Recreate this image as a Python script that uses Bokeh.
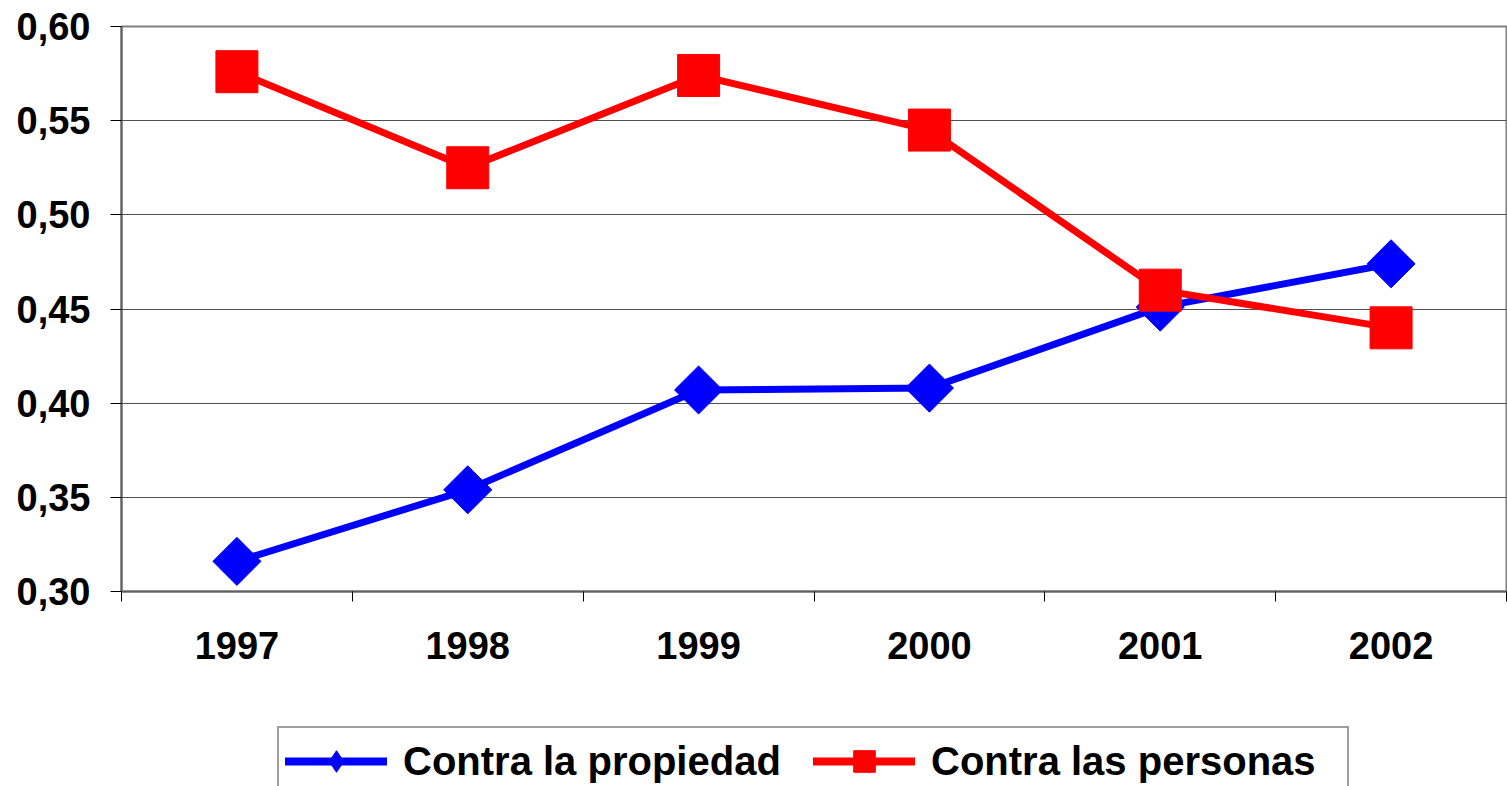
import math
from bokeh.plotting import figure
from bokeh.layouts import column
from bokeh.models import FixedTicker, CustomJSTickFormatter, Legend, LegendItem, Range1d
from bokeh.embed import file_html
from bokeh.resources import INLINE

years = ["1997", "1998", "1999", "2000", "2001", "2002"]
propiedad = [0.316, 0.354, 0.407, 0.408, 0.451, 0.474]
personas = [0.576, 0.525, 0.574, 0.545, 0.460, 0.440]
y_ticks = [0.30, 0.35, 0.40, 0.45, 0.50, 0.55, 0.60]
series_names = ["Contra la propiedad", "Contra las personas"]

xs = list(range(1, len(years) + 1))
FONT = "Liberation Sans"

p = figure(width=1507, height=726, output_backend="svg", toolbar_location=None,
           x_range=Range1d(0.5, len(years) + 0.5), y_range=Range1d(0.30, 0.60),
           min_border_left=121, min_border_top=26, min_border_right=1, min_border_bottom=135)
p.background_fill_color = "white"
p.border_fill_color = "white"
p.outline_line_color = "#808080"
p.outline_line_width = 2

# y axis
p.yaxis.ticker = FixedTicker(ticks=y_ticks)
p.yaxis.formatter = CustomJSTickFormatter(code="return tick.toFixed(2).replace('.', ',');")
p.yaxis.major_label_text_font = FONT
p.yaxis.major_label_text_font_style = "bold"
p.yaxis.major_label_text_font_size = "38px"
p.yaxis.major_label_text_color = "black"
p.yaxis.major_tick_out = 11
p.yaxis.major_tick_in = 0
p.yaxis.minor_tick_out = 0
p.yaxis.minor_tick_in = 0
p.yaxis.major_tick_line_color = "black"
p.yaxis.axis_line_color = "#606060"
p.yaxis.axis_line_width = 2
p.yaxis.major_label_standoff = 20

# x axis
xlabels = {i + 1: y for i, y in enumerate(years)}
p.xaxis.ticker = FixedTicker(ticks=xs, minor_ticks=[x - 0.5 for x in xs] + [len(xs) + 0.5])
p.xaxis.major_label_overrides = xlabels
p.xaxis.major_label_text_font = FONT
p.xaxis.major_label_text_font_style = "bold"
p.xaxis.major_label_text_font_size = "38px"
p.xaxis.major_label_text_color = "black"
p.xaxis.major_tick_out = 0
p.xaxis.major_tick_in = 0
p.xaxis.minor_tick_out = 10
p.xaxis.minor_tick_in = 0
p.xaxis.minor_tick_line_color = "black"
p.xaxis.axis_line_color = "#606060"
p.xaxis.axis_line_width = 2
p.xaxis.major_label_standoff = 30

p.xgrid.grid_line_color = None
p.ygrid.grid_line_color = "#505050"
p.ygrid.grid_line_width = 1

p.line(xs, propiedad, line_color="#0000FF", line_width=7)
p.scatter(xs, propiedad, marker="square", size=34, angle=math.pi / 4,
          fill_color="#0000FF", line_color="#0000FF")
p.line(xs, personas, line_color="#FF0000", line_width=7)
p.scatter(xs, personas, marker="square", size=42, fill_color="#FF0000", line_color="#FF0000")

# legend strip (separate figure so the legend sits below the axis, cut at the page bottom)
q = figure(width=1507, height=60, output_backend="svg", toolbar_location=None,
           x_axis_location=None, y_axis_location=None, min_border=0,
           x_range=Range1d(0, 1), y_range=Range1d(0, 1))
q.outline_line_color = None
q.grid.visible = False
q.background_fill_color = "white"
q.border_fill_color = "white"
off = [-5]
ql1 = q.line(x=off, y=off, line_color="#0000FF", line_width=8, line_cap="round")
qm1 = q.scatter(x=off, y=off, marker="diamond", fill_color="#0000FF", line_color="#0000FF")
ql2 = q.line(x=off, y=off, line_color="#FF0000", line_width=8, line_cap="round")
qm2 = q.scatter(x=off, y=off, marker="square", fill_color="#FF0000", line_color="#FF0000")

legend = Legend(items=[LegendItem(label=series_names[0], renderers=[ql1, qm1]),
                       LegendItem(label=series_names[1], renderers=[ql2, qm2])],
                orientation="horizontal", location=(156, -10),
                label_text_font=FONT, label_text_font_style="bold",
                label_text_font_size="40px", label_text_color="black",
                glyph_width=102, glyph_height=54, label_standoff=16, spacing=0,
                label_width=410,
                padding=6, margin=0, border_line_color="#404040", border_line_width=2,
                background_fill_color="white", background_fill_alpha=1.0)
q.add_layout(legend, "center")

layout = column(p, q, spacing=0)
open("out.html", "w").write(file_html(layout, INLINE))
